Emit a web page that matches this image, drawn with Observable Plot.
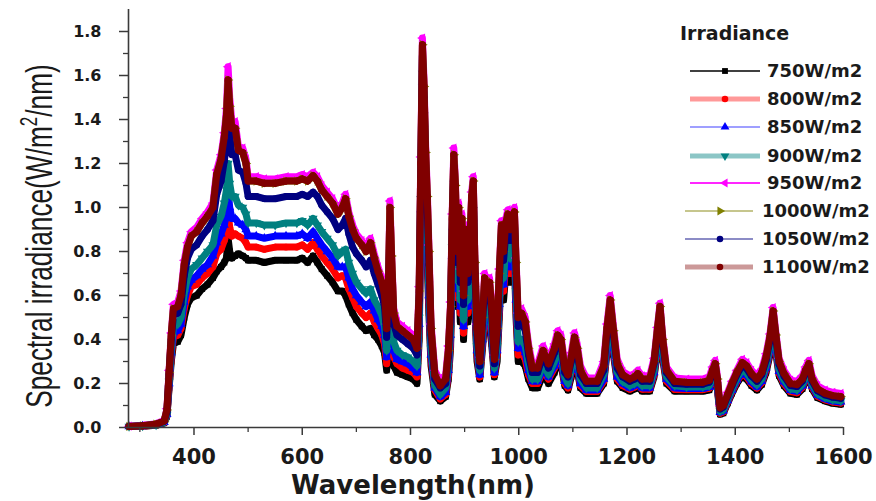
<!DOCTYPE html>
<html><head><meta charset="utf-8">
<script src="https://cdn.jsdelivr.net/npm/d3@7"></script>
<script src="https://cdn.jsdelivr.net/npm/@observablehq/plot@0.6"></script>
<style>
html,body{margin:0;padding:0;background:#fff;}
#wrap{position:relative;width:876px;height:501px;overflow:hidden;}
#wrap svg{position:absolute;left:0;top:0;}
</style></head><body><div id="wrap"></div>
<script>
const wavelengths = [280,305,330,345,350,354,358,362,370,376,382,388,395,405,415,425,435,442,450,456,460,463,466,470,476,482,490,496,500,515,530,550,570,590,600,610,620,628,636,646,656,666,674,680,686,693,700,710,718,726,733,740,747,752,756,759,762,765,769,775,785,795,805,812,816,819,822,825,828,831,834,838,845,855,865,870,874,877,880,883,886,889,892,895,898,902,906,910,913,916,919,923,928,933,937,942,946,950,955,960,964,968,972,976,980,984,988,992,995,999,1005,1012,1018,1025,1035,1045,1055,1066,1072,1078,1085,1091,1097,1103,1108,1114,1125,1145,1157,1163,1169,1175,1182,1192,1205,1214,1220,1228,1242,1250,1256,1261,1266,1273,1288,1310,1340,1352,1358,1363,1367,1372,1378,1386,1394,1403,1413,1421,1430,1440,1449,1457,1464,1470,1475,1481,1490,1502,1514,1524,1530,1536,1542,1552,1566,1580,1595];

const irr750 = [.004,.006,.01,.02,.05,.18,.30,.38,.39,.42, .50,.56,.59,.60,.63,.65,.68,.71,.73,.75, .77,.86,.80,.77,.78,.79,.78,.77,.76,.76, .75,.76,.76,.76,.77,.75,.78,.75,.72,.69, .66,.62,.62,.60,.56,.52,.49,.46,.44,.45, .42,.40,.37,.34,.26,.35,.55,.42,.28,.25, .24,.23,.22,.20,.40,.90,1.50,1.30,.95,.75, .52,.28,.15,.12,.14,.22,.36,.70,1.00,.85, .55,.72,.48,.70,.40,.65,.48,.60,.80,.88, .52,.30,.22,.36,.48,.44,.46,.38,.23,.30, .50,.70,.58,.70,.75,.66,.72,.76,.50,.30, .30,.28,.22,.18,.18,.24,.20,.25,.30,.29, .19,.17,.23,.30,.26,.18,.155,.155,.20,.34, .45,.33,.21,.18,.165,.175,.185,.165,.165,.23, .34,.44,.31,.20,.165,.165,.165,.17,.21,.235, .17,.06,.065,.11,.155,.20,.235,.22,.19,.17, .195,.25,.33,.44,.34,.235,.19,.155,.15,.175, .21,.235,.175,.135,.12,.11,.105];

const irr800 = [.004,.006,.011,.022,.055,.19,.32,.41,.42,.45, .54,.60,.64,.65,.68,.70,.73,.79,.81,.85, .88,.98,.91,.87,.88,.87,.86,.84,.82,.82, .81,.82,.82,.82,.83,.81,.84,.81,.78,.75, .72,.68,.69,.68,.63,.59,.55,.52,.50,.52, .48,.45,.42,.38,.29,.40,.63,.48,.32,.29, .27,.26,.25,.23,.44,.95,1.54,1.34,1.00,.80, .57,.31,.17,.13,.15,.24,.39,.74,1.04,.89, .59,.77,.52,.74,.43,.69,.52,.64,.84,.92, .56,.33,.23,.38,.51,.47,.49,.41,.24,.33, .53,.74,.62,.74,.79,.70,.76,.80,.54,.33, .34,.31,.24,.20,.20,.26,.22,.27,.32,.31, .20,.18,.25,.32,.28,.19,.164,.164,.21,.36, .47,.35,.22,.19,.174,.184,.195,.174,.174,.24, .36,.46,.325,.21,.173,.172,.172,.178,.219,.244, .179,.065,.071,.117,.163,.209,.245,.23,.199,.179, .204,.262,.344,.455,.354,.246,.199,.163,.158,.183, .219,.244,.183,.142,.126,.116,.111];

const irr850 = [.004,.007,.012,.023,.06,.20,.34,.43,.44,.47, .57,.64,.67,.69,.72,.74,.78,.84,.88,.92, .97,1.08,1.00,.95,.95,.93,.92,.90,.87,.87, .86,.87,.87,.87,.88,.86,.89,.86,.83,.80, .77,.73,.73,.73,.68,.63,.60,.57,.55,.57, .53,.49,.46,.42,.32,.43,.69,.53,.35,.31, .30,.29,.27,.25,.47,.99,1.57,1.38,1.04,.84, .60,.33,.18,.14,.16,.26,.42,.78,1.07,.93, .63,.80,.55,.78,.46,.73,.55,.68,.88,.95, .59,.35,.24,.40,.54,.49,.52,.43,.25,.35, .56,.77,.65,.77,.82,.73,.79,.83,.58,.36, .37,.34,.26,.21,.21,.27,.23,.28,.34,.32, .21,.19,.26,.33,.29,.20,.17,.17,.22,.37, .49,.36,.23,.20,.18,.19,.20,.18,.18,.25, .37,.47,.34,.22,.18,.177,.177,.184,.225,.25, .185,.069,.076,.122,.169,.215,.253,.238,.207,.185, .21,.271,.354,.467,.364,.255,.207,.169,.164,.189, .225,.252,.189,.147,.13,.12,.116];

const irr900 = [.005,.007,.012,.025,.06,.21,.36,.46,.47,.50, .61,.68,.72,.74,.77,.80,.83,.92,.96,1.02, 1.08,1.20,1.11,1.05,1.05,1.01,1.00,.97,.93,.93, .92,.92,.93,.93,.94,.92,.95,.92,.89,.86, .83,.78,.80,.81,.75,.70,.66,.63,.61,.63, .58,.55,.51,.46,.35,.48,.76,.59,.39,.35, .33,.32,.30,.28,.50,1.04,1.61,1.42,1.09,.89, .65,.36,.19,.15,.18,.28,.45,.82,1.11,.97, .67,.85,.58,.82,.49,.77,.58,.72,.92,.99, .63,.37,.26,.43,.57,.52,.55,.46,.27,.37, .59,.80,.68,.81,.85,.77,.83,.86,.62,.39, .40,.37,.29,.22,.22,.29,.24,.30,.36,.34, .23,.20,.27,.35,.31,.22,.18,.18,.24,.39, .51,.38,.25,.21,.19,.20,.21,.19,.19,.26, .39,.49,.35,.23,.19,.184,.184,.19,.234,.26, .194,.074,.081,.129,.176,.224,.263,.248,.216,.194, .22,.283,.368,.482,.378,.266,.216,.176,.171,.196, .234,.26,.196,.154,.136,.126,.121];

const irr950 = [.006,.009,.017,.033,.085,.26,.43,.56,.57,.62, .76,.84,.89,.91,.95,.98,1.02,1.17,1.24,1.34, 1.45,1.64,1.50,1.39,1.39,1.28,1.27,1.22,1.14,1.14, 1.13,1.13,1.14,1.14,1.15,1.14,1.16,1.14,1.10,1.07, 1.04,.99,1.02,1.06,.98,.92,.88,.85,.82,.86, .79,.73,.68,.62,.47,.64,1.03,.80,.54,.48, .46,.44,.42,.38,.64,1.23,1.77,1.58,1.28,1.08, .83,.47,.26,.21,.24,.37,.57,.97,1.27,1.12, .82,1.02,.72,.97,.62,.92,.72,.87,1.07,1.14, .77,.47,.32,.52,.70,.64,.68,.57,.33,.47, .72,.94,.82,.95,.99,.92,.98,1.00,.77,.52, .54,.50,.38,.29,.29,.37,.31,.38,.44,.42, .29,.26,.34,.43,.38,.28,.225,.225,.30,.47, .60,.46,.31,.255,.235,.245,.26,.235,.235,.315, .455,.565,.415,.275,.225,.22,.22,.23,.275,.305, .235,.10,.11,.16,.21,.26,.31,.295,.26,.235, .265,.335,.425,.545,.435,.315,.26,.215,.21,.235, .275,.305,.235,.19,.17,.16,.155];

const irr1000 = [.005,.008,.015,.03,.08,.25,.42,.54,.55,.60, .74,.82,.87,.89,.93,.96,1.00,1.15,1.22,1.32, 1.42,1.58,1.46,1.36,1.36,1.26,1.25,1.20,1.12,1.12, 1.11,1.11,1.12,1.12,1.13,1.12,1.145,1.12,1.08,1.05, 1.02,.97,1.00,1.04,.96,.90,.86,.83,.80,.84, .77,.71,.66,.60,.45,.62,1.00,.78,.52,.46, .44,.42,.40,.36,.62,1.20,1.74,1.55,1.25,1.05, .80,.45,.24,.19,.22,.35,.55,.95,1.24,1.10, .80,1.00,.70,.95,.60,.90,.70,.85,1.05,1.12, .75,.45,.30,.50,.68,.62,.66,.55,.31,.45, .70,.92,.80,.93,.97,.90,.96,.98,.75,.50, .52,.48,.36,.27,.27,.35,.29,.36,.42,.40, .27,.24,.32,.41,.36,.26,.21,.21,.28,.45, .58,.44,.29,.24,.22,.23,.245,.22,.22,.30, .44,.55,.40,.26,.21,.205,.205,.215,.26,.29, .22,.09,.10,.15,.20,.25,.295,.28,.245,.22, .25,.32,.41,.53,.42,.30,.245,.20,.195,.22, .26,.29,.22,.175,.155,.145,.14];

const irr1050 = [.005,.008,.014,.028,.07,.24,.40,.51,.52,.56, .69,.77,.81,.83,.87,.90,.94,1.06,1.12,1.21, 1.29,1.44,1.33,1.24,1.24,1.17,1.16,1.11,1.05,1.05, 1.04,1.04,1.05,1.05,1.06,1.05,1.07,1.05,1.01,.98, .95,.90,.92,.95,.88,.82,.79,.76,.73,.76, .70,.65,.60,.55,.41,.57,.91,.71,.47,.42, .40,.38,.36,.33,.58,1.14,1.69,1.50,1.19,.99, .74,.42,.22,.18,.20,.32,.51,.90,1.19,1.05, .75,.94,.66,.90,.56,.85,.66,.80,1.00,1.07, .70,.42,.28,.47,.64,.58,.62,.52,.29,.42, .66,.88,.76,.88,.93,.85,.91,.94,.70,.46, .48,.44,.33,.25,.25,.33,.27,.34,.40,.38, .25,.23,.30,.39,.34,.24,.20,.20,.26,.43, .55,.42,.27,.23,.21,.22,.23,.21,.21,.29, .42,.53,.38,.25,.20,.197,.197,.206,.25,.28, .21,.084,.093,.142,.191,.24,.283,.268,.234,.21, .24,.306,.394,.512,.404,.287,.234,.191,.186,.211, .25,.279,.211,.167,.148,.138,.133];

const irr1100 = [.005,.008,.015,.03,.08,.25,.42,.54,.55,.60, .74,.82,.87,.89,.93,.96,1.00,1.15,1.22,1.32, 1.42,1.58,1.46,1.36,1.36,1.26,1.25,1.20,1.12,1.12, 1.11,1.11,1.12,1.12,1.13,1.12,1.145,1.12,1.08,1.05, 1.02,.97,1.00,1.04,.96,.90,.86,.83,.80,.84, .77,.71,.66,.60,.45,.62,1.00,.78,.52,.46, .44,.42,.40,.36,.62,1.20,1.74,1.55,1.25,1.05, .80,.45,.24,.19,.22,.35,.55,.95,1.24,1.10, .80,1.00,.70,.95,.60,.90,.70,.85,1.05,1.12, .75,.45,.30,.50,.68,.62,.66,.55,.31,.45, .70,.92,.80,.93,.97,.90,.96,.98,.75,.50, .52,.48,.36,.27,.27,.35,.29,.36,.42,.40, .27,.24,.32,.41,.36,.26,.21,.21,.28,.45, .58,.44,.29,.24,.22,.23,.245,.22,.22,.30, .44,.55,.40,.26,.21,.205,.205,.215,.26,.29, .22,.09,.10,.15,.20,.25,.295,.28,.245,.22, .25,.32,.41,.53,.42,.30,.245,.20,.195,.22, .26,.29,.22,.175,.155,.145,.14];

const seriesNames = ["750W/m2","800W/m2","850W/m2","900W/m2","950W/m2","1000W/m2","1050W/m2","1100W/m2"];
const seriesColors = ["#000000","#ff0000","#0000ff","#008080","#ff00ff","#808000","#000080","#800000"];
const seriesSymbols = ["square","circle","triangle","triangle","triangle","triangle","circle","hexagon"];
const symbolRotations = [0,0,0,180,-90,90,0,0];
const legendLineWidths = [1.5,5,1.5,5,2,1.5,2,5];
const legendLineOpacity = [1,0.4,0.5,0.45,0.85,0.6,0.45,0.4];
const xTicks = [400,600,800,1000,1200,1400,1600];
const xMinorTicks = [300,500,700,900,1100,1300,1500];
const yTicks = [0,0.2,0.4,0.6,0.8,1.0,1.2,1.4,1.6,1.8];
const yMinorTicks = [0.1,0.3,0.5,0.7,0.9,1.1,1.3,1.5,1.7];
const xLabel = "Wavelength(nm)";
const legendTitle = "Irradiance";

const seriesValues = [irr750, irr800, irr850, irr900, irr950, irr1000, irr1050, irr1100];
const rows = seriesValues.flatMap((vals, s) =>
  wavelengths.map((w, i) => ({wavelength: w, value: vals[i], series: seriesNames[s]})));

const axisColor = "#3a3a3a";
const tickFont = "DejaVu Sans, Verdana, sans-serif";

const seriesMarks = seriesNames.flatMap((name, s) => {
  const d = rows.filter(r => r.series === name);
  return [
    Plot.line(d, {x: "wavelength", y: "value", stroke: seriesColors[s], strokeWidth: 7, strokeLinejoin: "round", strokeLinecap: "round"}),
    Plot.dot(d, {x: "wavelength", y: "value", fill: seriesColors[s], r: 3.4, symbol: seriesSymbols[s], rotate: symbolRotations[s]})
  ];
});

const chart = Plot.plot({
  width: 876,
  height: 501,
  marginLeft: 128,
  marginRight: 33,
  marginTop: 9,
  marginBottom: 74,
  style: {background: "#fff", overflow: "visible"},
  x: {domain: [279, 1600]},
  y: {domain: [0, 1.9]},
  marks: [
    ...seriesMarks,
    Plot.ruleX([279], {stroke: axisColor, strokeWidth: 1.6}),
    Plot.ruleY([0], {stroke: axisColor, strokeWidth: 1.6}),
    Plot.axisX(xTicks, {label: null, tickSize: 8, tickPadding: 14, tickFormat: d3.format("d"), stroke: axisColor, strokeWidth: 1.5, fill: "#1a1a1a", fontSize: 21, fontWeight: "bold", fontFamily: tickFont}),
    Plot.axisX(xMinorTicks, {label: null, tickSize: 5, tickFormat: () => "", stroke: axisColor, strokeWidth: 1.3}),
    Plot.axisY(yTicks, {label: null, tickSize: 9, tickPadding: 18, tickFormat: d3.format(".1f"), stroke: axisColor, strokeWidth: 1.5, fill: "#1a1a1a", fontSize: 16, fontWeight: "bold", fontFamily: tickFont}),
    Plot.axisY(yMinorTicks, {label: null, tickSize: 5, tickFormat: () => "", stroke: axisColor, strokeWidth: 1.3})
  ]
});

const wrap = document.getElementById("wrap");
wrap.appendChild(chart);

const svg = d3.select(chart);
// x axis title
svg.append("text")
  .attr("x", 413).attr("y", 494)
  .attr("text-anchor", "middle")
  .attr("font-family", tickFont)
  .attr("font-weight", "bold")
  .attr("font-size", 26)
  .attr("fill", "#1a1a1a")
  .text(xLabel);
// y axis title with superscript
const yt = svg.append("text")
  .attr("transform", "translate(52,236) rotate(-90) scale(0.71,1)")
  .attr("text-anchor", "middle")
  .attr("font-family", "Liberation Sans, Arial, sans-serif")
  .attr("font-size", 37)
  .attr("fill", "#1a1a1a");
yt.append("tspan").text("Spectral irradiance(W/m");
yt.append("tspan").attr("font-size", 24).attr("dy", -15).text("2");
yt.append("tspan").attr("dy", 15).text("/nm)");

// legend
const lg = svg.append("g").attr("text-anchor", "start");
lg.append("text")
  .attr("x", 680).attr("y", 40)
  .attr("text-anchor", "start")
  .attr("font-family", tickFont).attr("font-weight", "bold").attr("font-size", 19)
  .attr("fill", "#1a1a1a")
  .text(legendTitle);
const legendY = [71, 99, 127, 156, 183, 211, 239, 267];
const symbolTypes = {square: d3.symbolSquare, circle: d3.symbolCircle, triangle: d3.symbolTriangle, hexagon: d3.symbolCircle};
seriesNames.forEach((name, s) => {
  const wide = name.length > 7;
  const x0 = wide ? 685 : 690, x1 = wide ? 753 : 760, xm = wide ? 720 : 725, xt = wide ? 762 : 767;
  const y = legendY[s];
  lg.append("line").attr("x1", x0).attr("x2", x1).attr("y1", y).attr("y2", y)
    .attr("stroke", seriesColors[s]).attr("stroke-width", legendLineWidths[s]).attr("stroke-opacity", legendLineOpacity[s]);
  lg.append("path").attr("d", d3.symbol(symbolTypes[seriesSymbols[s]], 34)())
    .attr("transform", `translate(${xm},${y}) rotate(${symbolRotations[s]})`)
    .attr("fill", seriesColors[s]);
  lg.append("text").attr("x", xt).attr("y", y).attr("dy", "0.36em")
    .attr("text-anchor", "start")
    .attr("font-family", tickFont).attr("font-weight", "bold").attr("font-size", 18)
    .attr("fill", "#1a1a1a")
    .text(name);
});
</script></body></html>
